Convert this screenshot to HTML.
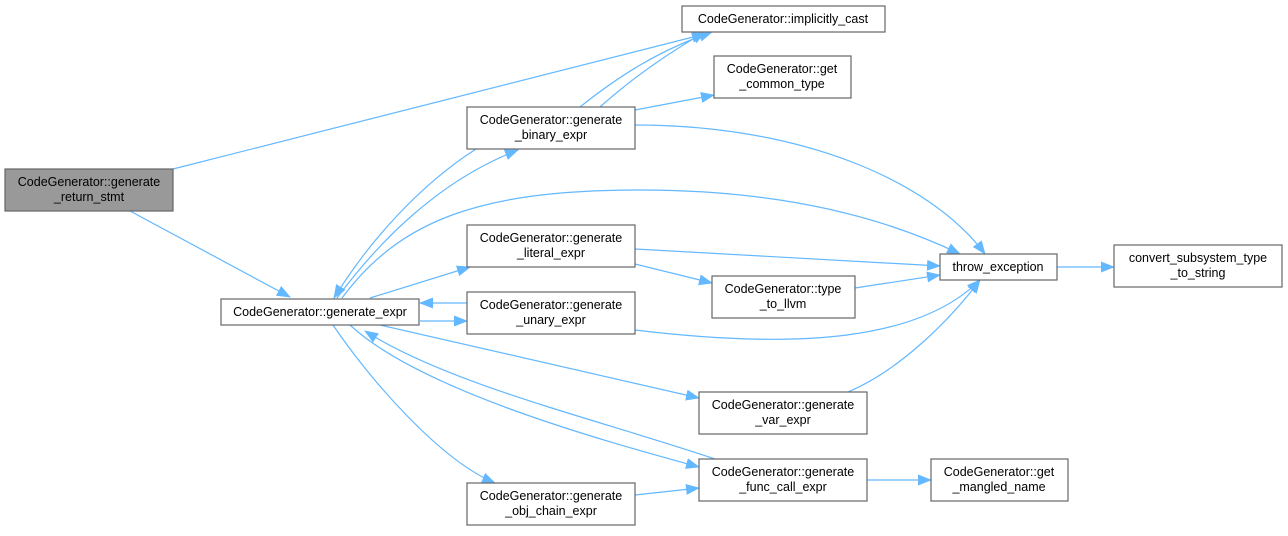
<!DOCTYPE html>
<html><head><meta charset="utf-8"><style>
html,body{margin:0;padding:0;background:#fff;}
svg text{font-family:"Liberation Sans",Arial,sans-serif;font-size:12.5px;fill:#000;}
</style></head><body>
<svg width="1288" height="531" viewBox="0 0 1288 531" xmlns="http://www.w3.org/2000/svg">
<defs>
<marker id="a" markerWidth="14" markerHeight="11" refX="13" refY="5.5" orient="auto" markerUnits="userSpaceOnUse">
<path d="M0,0 L14,5.5 L0,11 Z" fill="#63b8ff"/>
</marker>
</defs>
<g fill="none" stroke="#63b8ff" stroke-width="1.2" marker-end="url(#a)">
<path d="M173,169 L705,34"/>
<path d="M130,211 L290,297"/>
<path d="M476,149 C420,185 370,240 334,298"/>
<path d="M337,298 C380,240 440,180 518,150"/>
<path d="M342,298 C400,220 480,190 640,190 C800,190 900,225 960,254"/>
<path d="M370,298 L470,267"/>
<path d="M467,303 L420,303"/>
<path d="M420,321 L467,321"/>
<path d="M380,325 L699,398"/>
<path d="M350,325 C420,390 600,440 699,467"/>
<path d="M715,459 C600,420 450,385 365,331"/>
<path d="M333,325 C370,380 440,460 495,483"/>
<path d="M635,495 L699,488"/>
<path d="M867,480 L931,480"/>
<path d="M580,107 C620,75 660,50 712,32"/>
<path d="M600,107 C630,80 665,55 705,32"/>
<path d="M635,110 L714,95"/>
<path d="M635,125 C800,125 930,180 985,254"/>
<path d="M635,249 L940,266"/>
<path d="M635,264 L712,283"/>
<path d="M855,288 L940,275"/>
<path d="M635,330 C800,350 920,340 980,280"/>
<path d="M848,392 C900,370 950,320 980,280"/>
<path d="M1057,267 L1114,267"/>
</g>
<g stroke="#666" stroke-width="1.2">
<rect x="5" y="169" width="168" height="42" fill="#999"/>
<rect x="221" y="299" width="198" height="26" fill="#fff"/>
<rect x="682" y="6" width="203" height="26" fill="#fff"/>
<rect x="714" y="56" width="137" height="42" fill="#fff"/>
<rect x="467" y="107" width="168" height="42" fill="#fff"/>
<rect x="467" y="225" width="168" height="42" fill="#fff"/>
<rect x="467" y="292" width="168" height="42" fill="#fff"/>
<rect x="940" y="254" width="117" height="26" fill="#fff"/>
<rect x="1114" y="245" width="168" height="42" fill="#fff"/>
<rect x="712" y="276" width="143" height="42" fill="#fff"/>
<rect x="699" y="392" width="168" height="42" fill="#fff"/>
<rect x="699" y="459" width="168" height="42" fill="#fff"/>
<rect x="931" y="459" width="137" height="42" fill="#fff"/>
<rect x="467" y="483" width="168" height="42" fill="#fff"/>
</g>
<g text-anchor="middle">
<text x="89" y="186">CodeGenerator::generate</text><text x="89" y="201">_return_stmt</text>
<text x="320" y="316">CodeGenerator::generate_expr</text>
<text x="783" y="23">CodeGenerator::implicitly_cast</text>
<text x="782" y="73">CodeGenerator::get</text><text x="782" y="88">_common_type</text>
<text x="551" y="124">CodeGenerator::generate</text><text x="551" y="139">_binary_expr</text>
<text x="551" y="242">CodeGenerator::generate</text><text x="551" y="257">_literal_expr</text>
<text x="551" y="309">CodeGenerator::generate</text><text x="551" y="324">_unary_expr</text>
<text x="998" y="271">throw_exception</text>
<text x="1198" y="262">convert_subsystem_type</text><text x="1198" y="277">_to_string</text>
<text x="783" y="293">CodeGenerator::type</text><text x="783" y="308">_to_llvm</text>
<text x="783" y="409">CodeGenerator::generate</text><text x="783" y="424">_var_expr</text>
<text x="783" y="476">CodeGenerator::generate</text><text x="783" y="491">_func_call_expr</text>
<text x="999" y="476">CodeGenerator::get</text><text x="999" y="491">_mangled_name</text>
<text x="551" y="500">CodeGenerator::generate</text><text x="551" y="515">_obj_chain_expr</text>
</g>
</svg>
</body></html>
